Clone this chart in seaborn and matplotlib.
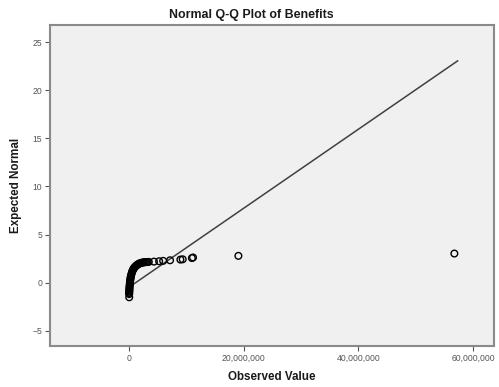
import matplotlib
matplotlib.use("Agg")
import matplotlib.pyplot as plt
import matplotlib.ticker as mticker
import seaborn as sns
import pandas as pd

# ---- data (observed values in millions, expected normal quantiles) ----
observed_m = [0.09,
              0.08, 0.09, 0.10, 0.11, 0.12, 0.13, 0.15, 0.17, 0.19, 0.21,
              0.24, 0.27, 0.30, 0.34, 0.38, 0.44, 0.51, 0.58, 0.65, 0.73,
              0.82, 0.91, 1.00, 1.12, 1.26, 1.39, 1.52, 1.67, 1.82, 1.98,
              2.13, 2.30, 2.48, 2.65, 2.83, 3.03, 3.25, 3.50,
              4.4, 5.3, 6.0, 7.2, 9.0, 9.4, 11.0, 11.2, 19.1, 56.7]
expected = [-1.53,
            -1.20, -1.08, -0.96, -0.84, -0.72, -0.60, -0.46, -0.32, -0.18, -0.04,
            0.10, 0.24, 0.38, 0.52, 0.66, 0.80, 0.95, 1.08, 1.20, 1.31,
            1.41, 1.50, 1.57, 1.65, 1.73, 1.80, 1.86, 1.92, 1.97, 2.01,
            2.04, 2.07, 2.09, 2.11, 2.12, 2.13, 2.14, 2.15,
            2.18, 2.22, 2.26, 2.32, 2.39, 2.42, 2.55, 2.61, 2.78, 3.02]
line_obs_m = [0.0, 57.3]
line_exp = [-0.51, 23.08]

x_ticks = [0, 20_000_000, 40_000_000, 60_000_000]
y_ticks = [-5, 0, 5, 10, 15, 20, 25]

title = "Normal Q-Q Plot of Benefits"
xlabel = "Observed Value"
ylabel = "Expected Normal"

points = pd.DataFrame({"obs": [v * 1e6 for v in observed_m], "exp": expected})
line = pd.DataFrame({"obs": [v * 1e6 for v in line_obs_m], "exp": line_exp})

sns.set_theme(style="white")
plt.rcParams["font.family"] = ["Liberation Sans", "DejaVu Sans"]

W, H = 499, 387
fig = plt.figure(figsize=(W / 100, H / 100), dpi=100)
ax = fig.add_axes([50 / W, 1 - 346 / H, 444 / W, 321 / H])
ax.set_facecolor("#f0f0f0")

sns.lineplot(data=line, x="obs", y="exp", ax=ax, color="#404040", linewidth=1.1)
sns.scatterplot(data=points, x="obs", y="exp", ax=ax, marker="o", s=23,
                facecolor="none", edgecolor="black", linewidth=1.0, zorder=3)

ax.set_xlim(-13.7e6, 63.6e6)
ax.set_ylim(-6.6, 26.8)
ax.set_xticks(x_ticks)
ax.set_yticks(y_ticks)
ax.xaxis.set_major_formatter(mticker.FuncFormatter(lambda v, p: f"{int(round(v)):,}"))
ax.tick_params(axis="both", which="major", direction="out", length=3.5, width=0.8,
               color="#555555", labelsize=6.2, labelcolor="#555555", pad=2,
               bottom=True, left=True)

for sp in ax.spines.values():
    sp.set_color("#8a8a8a")
    sp.set_linewidth(1.5)

ax.set_xlabel(xlabel, fontsize=8.4, fontweight="bold", color="#1a1a1a", labelpad=6)
ax.set_ylabel(ylabel, fontsize=8.4, fontweight="bold", color="#1a1a1a", labelpad=8)
fig.text(0.503, 1 - 15 / H, title, ha="center", va="center", fontsize=8.9,
         fontweight="bold", color="#1a1a1a")

fig.savefig("out.png", dpi=100, facecolor="white")
